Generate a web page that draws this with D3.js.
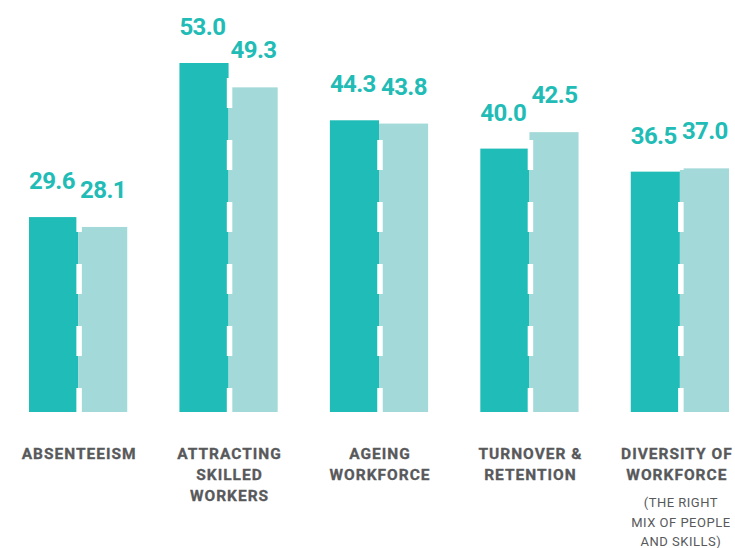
<!DOCTYPE html>
<html>
<head>
<meta charset="utf-8">
<script src="https://cdn.jsdelivr.net/npm/d3@7"></script>
<style>
  html, body { margin: 0; padding: 0; background: #fff; }
  svg { display: block; }
</style>
</head>
<body>
<svg id="chart" width="735" height="548"></svg>
<script>
const categories = [
  ["ABSENTEEISM"],
  ["ATTRACTING", "SKILLED", "WORKERS"],
  ["AGEING", "WORKFORCE"],
  ["TURNOVER &", "RETENTION"],
  ["DIVERSITY OF", "WORKFORCE"]
];
const subLabels = [[], [], [], [], ["(THE RIGHT", "MIX OF PEOPLE", "AND SKILLS)"]];
const seriesA = [29.6, 53.0, 44.3, 40.0, 36.5];
const seriesB = [28.1, 49.3, 43.8, 42.5, 37.0];

const svg = d3.select("#chart");
const baseY = 412;
const x = d3.scaleBand().domain(d3.range(categories.length)).range([29, 729]).paddingInner(0.347).paddingOuter(0);
const y = d3.scaleLinear().domain([0, 53]).range([baseY, baseY - 349]);
const bw = x.bandwidth() / 2;

const darkC = "#1fbcb8", lightC = "#a3d9d8", labelC = "#22bcb6", catC = "#58595b";

const g = svg.selectAll("g.grp").data(categories).enter().append("g").attr("class", "grp");

g.append("rect")
  .attr("x", (d, i) => x(i))
  .attr("y", (d, i) => y(seriesA[i]))
  .attr("width", bw)
  .attr("height", (d, i) => baseY - y(seriesA[i]))
  .attr("fill", darkC);

g.append("rect")
  .attr("x", (d, i) => x(i) + bw)
  .attr("y", (d, i) => y(seriesB[i]))
  .attr("width", bw)
  .attr("height", (d, i) => baseY - y(seriesB[i]))
  .attr("fill", lightC);

// white dashed separator
g.append("line")
  .attr("x1", (d, i) => x(i) + bw + 1)
  .attr("x2", (d, i) => x(i) + bw + 1)
  .attr("y1", 16)
  .attr("y2", baseY)
  .attr("stroke", "#fff")
  .attr("stroke-width", 5.5)
  .attr("stroke-dasharray", "30 32");

const valFont = "Roboto, 'Noto Sans', sans-serif";
g.append("text")
  .attr("x", (d, i) => x(i))
  .attr("y", (d, i) => y(seriesA[i]) - 28)
  .attr("font-family", valFont).attr("font-weight", 700).attr("font-size", 24)
  .attr("letter-spacing", -0.6)
  .attr("fill", labelC)
  .text((d, i) => seriesA[i].toFixed(1));

g.append("text")
  .attr("x", (d, i) => x(i) + bw + 2)
  .attr("y", (d, i) => y(seriesB[i]) - 29)
  .attr("font-family", valFont).attr("font-weight", 700).attr("font-size", 24)
  .attr("letter-spacing", -0.6)
  .attr("fill", labelC)
  .text((d, i) => seriesB[i].toFixed(1));

// category labels
g.each(function(d, i) {
  const cx = x(i) + x.bandwidth() / 2 + 1;
  const sel = d3.select(this);
  d.forEach((line, j) => {
    sel.append("text")
      .attr("x", i === categories.length - 1 ? cx - 4 : cx).attr("y", 459 + j * 21)
      .attr("text-anchor", "middle")
      .attr("font-family", valFont).attr("font-weight", 700).attr("font-size", 15.5)
      .attr("letter-spacing", 1.0)
      .attr("fill", catC)
      .attr("stroke", catC).attr("stroke-width", 0.3)
      .text(line);
  });
  subLabels[i].forEach((line, j) => {
    sel.append("text")
      .attr("x", cx).attr("y", 507 + j * 19.5)
      .attr("text-anchor", "middle")
      .attr("font-family", valFont).attr("font-weight", 400).attr("font-size", 13)
      .attr("letter-spacing", 0.5)
      .attr("fill", catC)
      .text(line);
  });
});
</script>
</body>
</html>
